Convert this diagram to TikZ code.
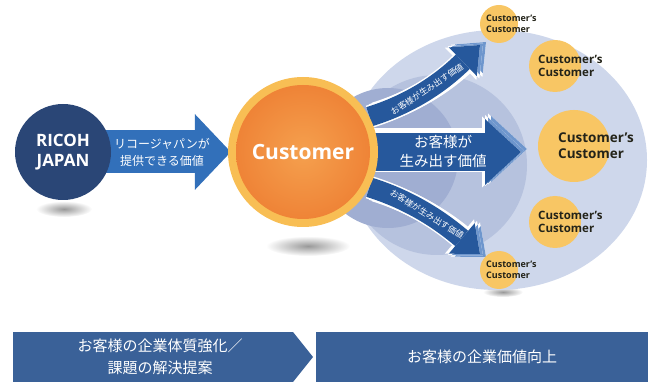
\documentclass[tikz,border=0pt]{standalone}
\usepackage{fontspec}
\setmainfont{Open Sans}
\newfontfamily\jp{Noto Sans CJK JP}
\usetikzlibrary{arrows.meta, backgrounds, positioning}

\definecolor{ricohnavy}{RGB}{42,70,118}
\definecolor{offerblue}{RGB}{50,112,186}
\definecolor{valueblue}{RGB}{38,88,156}
\definecolor{layerblue}{RGB}{110,150,205}
\definecolor{haze}{RGB}{206,215,235}
\definecolor{hazemid}{RGB}{182,194,222}
\definecolor{hazedeep}{RGB}{160,174,210}
\definecolor{custrim}{RGB}{248,190,84}
\definecolor{custglow}{RGB}{245,160,78}
\definecolor{custcore}{RGB}{238,128,52}
\definecolor{ccyellow}{RGB}{248,198,100}
\definecolor{ccink}{RGB}{35,35,25}
\definecolor{bandblue}{RGB}{58,97,152}

\begin{document}
\begin{tikzpicture}[x=1pt, y=-1pt,
        disc/.style={circle, inner sep=0pt, minimum size=#1},
        ccdisc/.style={disc=#1, fill=ccyellow},
        cclabel/.style={anchor=west, align=left, inner sep=0pt, text=ccink},
        jptext/.style={text=white, align=center, inner sep=0pt},
        shadowblob/.style={inner color=black!40, outer color=white},
        offerflow/.style={draw=offerblue, line width=43pt, shorten >=-3pt, -{Triangle[width=76pt, length=36pt, line width=0pt]}},
        flow/.style={line width=20pt, -{Triangle[width=40pt, length=24pt, line width=0pt]}},
        flowrim/.style={draw=white, line width=23pt, -{Triangle[width=45pt, length=27pt, line width=0pt]}},
        mainflow/.style={line width=38pt, -{Triangle[width=66pt, length=36pt, line width=0pt]}},
        mainrim/.style={draw=white, line width=41pt, -{Triangle[width=71pt, length=39pt, line width=0pt]}}]

    \useasboundingbox (0,0) rectangle (648,382);

    \node[disc=96pt, fill=ricohnavy, text=white, align=center, font=\bfseries\fontsize{17}{20}\selectfont] (ricoh) at (63,152) {RICOH\\JAPAN};
    \node[disc=150pt, fill=custrim, text=white, font=\bfseries\fontsize{21}{25}\selectfont,
          path picture={\shade[inner color=custglow, outer color=custcore] (path picture bounding box.center) circle [radius=67pt];}] (customer) at (303,152) {Customer};

    \coordinate (uptip) at (480,45);
    \coordinate (midtip) at (521,152);
    \coordinate (lowtip) at (480,254);

    % customer's customers
    \node[ccdisc=38pt] (cc1) at (499,24) {};
    \node[ccdisc=52pt] (cc2) at (555,66) {};
    \node[ccdisc=72pt] (cc3) at (574,146) {};
    \node[ccdisc=52pt] (cc4) at (555,222) {};
    \node[ccdisc=38pt] (cc5) at (499,270) {};
    \node[cclabel, font=\bfseries\fontsize{9}{11.5}\selectfont] (cc1text) at ([xshift=-13pt]cc1.center) {Customer’s\\Customer};
    \node[cclabel, font=\bfseries\fontsize{11.5}{13.5}\selectfont] (cc2text) at ([xshift=-17pt]cc2.center) {Customer’s\\Customer};
    \node[cclabel, font=\bfseries\fontsize{13.5}{16}\selectfont] (cc3text) at ([xshift=-16pt]cc3.center) {Customer’s\\Customer};
    \node[cclabel, font=\bfseries\fontsize{11.5}{13.5}\selectfont] (cc4text) at ([xshift=-17pt]cc4.center) {Customer’s\\Customer};
    \node[cclabel, font=\bfseries\fontsize{9}{11.5}\selectfont] (cc5text) at ([xshift=-13pt]cc5.center) {Customer’s\\Customer};

    % bottom band
    \fill[bandblue] (13,332) -- (293,332) -- (313,357) -- (293,382) -- (13,382) -- cycle;
    \node[jptext, font=\jp\fontsize{15}{22}\selectfont] (propose) at (160,357) {お客様の企業体質強化／\\課題の解決提案};
    \node[fill=bandblue, minimum width=332pt, minimum height=50pt, anchor=north west, inner sep=0pt, text=white, font=\jp\fontsize{15}{18}\selectfont] (uplift) at (316,332) {お客様の企業価値向上};

    \begin{scope}[on background layer]
        \shade[shadowblob] (64,209) ellipse [x radius=28pt, y radius=8pt];
        \shade[shadowblob] (308,246) ellipse [x radius=42pt, y radius=10pt];
        \shade[shadowblob] (503,292) ellipse [x radius=20pt, y radius=5pt];
        \fill[haze] (497,160) ellipse [x radius=150pt, y radius=130pt];
        \fill[hazemid] (437,165) circle [radius=90pt];
        \fill[hazedeep] (388,158) circle [radius=70pt];

        % value flows
        \foreach \dx/\dy/\c in {6/3/layerblue, 3/1.5/layerblue, 0/0/valueblue} {
            \begin{scope}[transform canvas={xshift=\dx pt, yshift=\dy pt}]
                \draw[flowrim] (customer.28) .. controls (410,104) and (440,84) .. (uptip);
                \draw[flow, draw=\c] (customer.28) .. controls (410,104) and (440,84) .. (uptip);
            \end{scope}
            \begin{scope}[transform canvas={xshift=\dx pt, yshift=-\dy pt}]
                \draw[flowrim] (customer.-28) .. controls (410,200) and (440,220) .. (lowtip);
                \draw[flow, draw=\c] (customer.-28) .. controls (410,200) and (440,220) .. (lowtip);
            \end{scope}
            \begin{scope}[transform canvas={xshift=\dx pt, yshift=\dy pt}]
                \draw[mainrim] (customer.center) -- (midtip);
                \draw[mainflow, draw=\c] (customer.center) -- (midtip);
            \end{scope}
        }
        \path (customer.28) .. controls (410,104) and (440,84) .. (uptip)
            node[pos=0.52, sloped, jptext, font=\jp\fontsize{8.5}{8.5}\selectfont] (upvalue) {お客様が生み出す価値};
        \path (customer.-28) .. controls (410,200) and (440,220) .. (lowtip)
            node[pos=0.52, sloped, jptext, font=\jp\fontsize{8.5}{8.5}\selectfont] (lowvalue) {お客様が生み出す価値};
        \node[jptext, font=\jp\fontsize{14.5}{19}\selectfont] (midvalue) at (443,151) {お客様が\\生み出す価値};

        \draw[offerflow] (ricoh.center) -- (customer.west)
            node[pos=0.6, jptext, font=\jp\fontsize{12}{17}\selectfont] (offer) {リコージャパンが\\提供できる価値};
    \end{scope}
\end{tikzpicture}
\end{document}
